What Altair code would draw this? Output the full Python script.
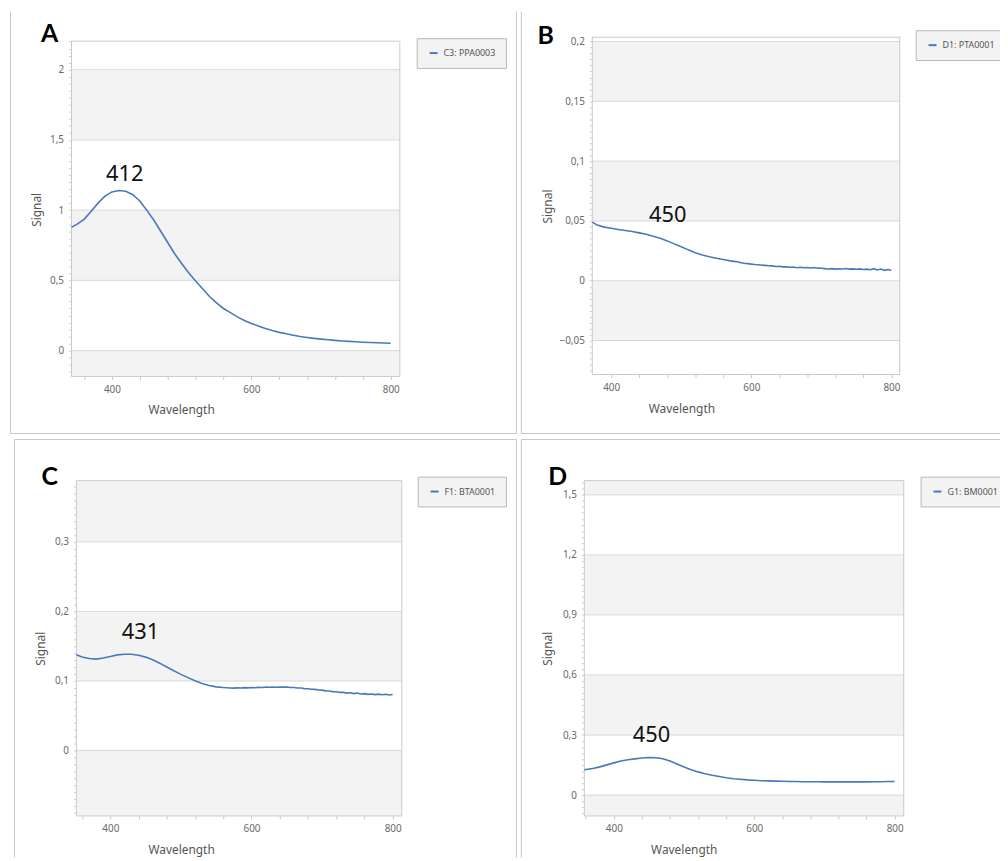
import math
import altair as alt
import pandas as pd

# ---------------- data ----------------
a_series = "C3: PPA0003"
a_peak = "412"
a_wl = [342] + list(range(350, 801, 10))
a_sig = [0.877, 0.900, 0.935, 0.990, 1.050, 1.100, 1.130, 1.140, 1.135, 1.110,
         1.065, 1.000, 0.930, 0.850, 0.770, 0.690, 0.620, 0.555, 0.495, 0.440,
         0.385, 0.340, 0.300, 0.270, 0.240, 0.215, 0.193, 0.175, 0.158, 0.143,
         0.130, 0.120, 0.110, 0.100, 0.094, 0.087, 0.082, 0.077, 0.073, 0.069,
         0.066, 0.063, 0.060, 0.058, 0.056, 0.054, 0.052]

b_series = "D1: PTA0001"
b_peak = "450"
b_wl = [373] + list(range(380, 571, 10)) + list(range(575, 801, 5))
b_sig = [0.0490,
         0.0465, 0.0448, 0.0438, 0.0428, 0.0420, 0.0412, 0.0400, 0.0388, 0.0372, 0.0355,
         0.0333, 0.0308, 0.0284, 0.0258, 0.0234, 0.0215, 0.0200, 0.0188, 0.0177, 0.0166,
         0.0162, 0.0158, 0.0150, 0.0146, 0.0143,
         0.0139, 0.0136, 0.0134, 0.0130, 0.0128, 0.0125, 0.0124, 0.0119, 0.0121, 0.0116,
         0.0117, 0.0112, 0.0114, 0.0109, 0.0112, 0.0108, 0.0111, 0.0106, 0.0110, 0.0105,
         0.0104, 0.0101, 0.0098, 0.0101, 0.0097, 0.0100, 0.0098, 0.0102, 0.0097, 0.0099,
         0.0096, 0.0099, 0.0094, 0.0097, 0.0092, 0.0101, 0.0090, 0.0098, 0.0087, 0.0094,
         0.0088]

c_series = "F1: BTA0001"
c_peak = "431"
c_wl = [352] + list(range(360, 561, 10)) + list(range(565, 801, 5))
c_sig = [0.1376,
         0.1345, 0.1322, 0.1314, 0.1330, 0.1353, 0.1375, 0.1385, 0.1383, 0.1370, 0.1343,
         0.1305, 0.1256, 0.1200, 0.1146, 0.1095, 0.1048, 0.1003, 0.0965, 0.0935, 0.0915,
         0.0906,
         0.0903, 0.0900, 0.0897, 0.0902, 0.0899, 0.0904, 0.0901,
         0.0906, 0.0903, 0.0908, 0.0906, 0.0911, 0.0909, 0.0913, 0.0910, 0.0914, 0.0911,
         0.0913, 0.0906, 0.0905, 0.0899, 0.0898, 0.0890, 0.0888, 0.0882, 0.0879, 0.0870,
         0.0868, 0.0858, 0.0857, 0.0847, 0.0846, 0.0836, 0.0838, 0.0826, 0.0830, 0.0818,
         0.0826, 0.0812, 0.0818, 0.0808, 0.0812, 0.0804, 0.0811, 0.0801, 0.0808, 0.0798,
         0.0805]

d_series = "G1: BM0001"
d_peak = "450"
d_wl = [358] + list(range(370, 801, 10))
d_sig = [0.127,
         0.133, 0.141, 0.151, 0.161, 0.170, 0.177, 0.181, 0.185, 0.188, 0.187,
         0.182, 0.170, 0.155, 0.140, 0.127, 0.116, 0.107, 0.099, 0.093, 0.087,
         0.082, 0.079, 0.076, 0.074, 0.072, 0.071, 0.070, 0.069, 0.068, 0.068,
         0.067, 0.067, 0.067, 0.066, 0.066, 0.066, 0.066, 0.066, 0.066, 0.066,
         0.067, 0.067, 0.068, 0.068]

# ---------------- styling / layout ----------------
FONT = "Noto Sans"
LINE = "#4a78bd"
BAND = "#f3f3f3"
GRID = "#d9d9d9"
FRAME = "#c9c9c9"
BORDER = "#c6c6c6"
W, H, M = 1000, 853, 8   # chart size and page margin
LEG_DX, LEG_DY = 3, -4   # legend placement correction


def panel(series, wl, sig, peak, peak_at, box, xdom, ydom, bands, majors,
          major_step, minor_step, xtitle_at, ytitle_at, legend_at, letter, letter_at):
    """Returns a flat list of unit layers for one panel (all sharing identical scales)."""
    left, top, right, bottom = [v - M for v in box]

    def sx():
        return alt.Scale(domain=xdom, range=[left, right], nice=False, zero=False)

    def sy():
        return alt.Scale(domain=ydom, range=[bottom, top], nice=False, zero=False)

    band_df = pd.DataFrame({"lo": [b[0] for b in bands], "hi": [b[1] for b in bands],
                            "x0": xdom[0], "x1": xdom[1]})
    band_layer = alt.Chart(band_df).mark_rect(color=BAND).encode(
        x=alt.X("x0:Q", scale=sx(), axis=None), x2="x1:Q",
        y=alt.Y("lo:Q", scale=sy(), axis=None), y2="hi:Q")

    grid_df = pd.DataFrame({"v": majors, "x0": xdom[0], "x1": xdom[1]})
    grid_layer = alt.Chart(grid_df).mark_rule(color=GRID, strokeWidth=1).encode(
        x=alt.X("x0:Q", scale=sx(), axis=None), x2="x1:Q",
        y=alt.Y("v:Q", scale=sy(), axis=None))

    frame_df = pd.DataFrame({"x0": [xdom[0]], "x1": [xdom[1]], "y0": [ydom[0]], "y1": [ydom[1]]})
    frame_layer = alt.Chart(frame_df).mark_rect(fillOpacity=0, stroke=FRAME, strokeWidth=1).encode(
        x=alt.X("x0:Q", scale=sx(), axis=None), x2="x1:Q",
        y=alt.Y("y0:Q", scale=sy(), axis=None), y2="y1:Q")

    xticks = [t for t in range(360, 801, 40) if t >= xdom[0]]
    k0 = int(math.ceil(ydom[0] / minor_step - 1e-9))
    k1 = int(math.floor(ydom[1] / minor_step + 1e-9))
    yticks = [round(k * minor_step, 6) for k in range(k0, k1 + 1)]
    major_test = f"abs(datum.value / {major_step} - round(datum.value / {major_step})) < 0.000001"

    x_axis = alt.Axis(orient="bottom", offset=bottom - H, values=xticks,
                      labelExpr="datum.value % 200 == 0 ? datum.label : ''",
                      format="d",
                      labelFlush=False, labelOverlap=False, tickSize=3, labelPadding=5,
                      tickColor="#c4c4c4",
                      title="Wavelength", titleX=xtitle_at[0] - M, titleY=xtitle_at[1] - box[3],
                      titleBaseline="middle", titleAlign="center")
    y_axis = alt.Axis(orient="left", offset=-left, values=yticks,
                      labelExpr=f"{major_test} ? replace(datum.label, '.', ',') : ''",
                      format="~g",
                      labelOverlap=False, labelFlush=False, tickSize=3, labelPadding=5,
                      tickColor="#cfcfcf",
                      title="Signal", titleX=ytitle_at[0] - box[0], titleY=ytitle_at[1] - M,
                      titleAngle=270, titleBaseline="middle", titleAlign="center")

    color = alt.Color("series:N", scale=alt.Scale(domain=[series], range=[LINE]),
                      legend=alt.Legend(orient="none", legendX=legend_at[0] - M + LEG_DX,
                                        legendY=legend_at[1] - M + LEG_DY, title=None,
                                        symbolType="stroke", symbolSize=64, symbolStrokeWidth=2,
                                        labelFont=FONT, labelFontSize=9, labelColor="#555555",
                                        padding=10, fillColor="#f3f3f3", strokeColor="#b8b8b8",
                                        labelOffset=5, symbolOffset=2))

    ann_df = pd.DataFrame({"wl": [peak_at[0]], "sig": [peak_at[1]], "label": [peak]})
    ann_layer = alt.Chart(ann_df).mark_text(font=FONT, fontSize=22, color="#111111",
                                            align="center", baseline="middle").encode(
        x=alt.X("wl:Q", scale=sx(), axis=None), y=alt.Y("sig:Q", scale=sy(), axis=None),
        text="label:N")

    letter_layer = alt.Chart(pd.DataFrame({"t": [letter]})).mark_text(
        font="Lato", fontSize=25, fontWeight="bold", color="#000000",
        align="center", baseline="middle").encode(
        x=alt.value(letter_at[0] - M), y=alt.value(letter_at[1] - M), text="t:N")

    line_df = pd.DataFrame({"wl": wl, "sig": sig, "series": series})
    line_layer = alt.Chart(line_df).mark_line(strokeWidth=1.6).encode(
        x=alt.X("wl:Q", scale=sx(), axis=x_axis),
        y=alt.Y("sig:Q", scale=sy(), axis=y_axis),
        color=color)

    return [band_layer, grid_layer, frame_layer, ann_layer, letter_layer, line_layer]


pA = panel(a_series, a_wl, a_sig, a_peak, (418.5, 1.259),
           box=(72, 38, 403, 376), xdom=[342, 813], ydom=[-0.184, 2.203],
           bands=[(1.5, 2), (0.5, 1), (-0.184, 0)], majors=[0, 0.5, 1, 1.5, 2],
           major_step=0.5, minor_step=0.05,
           xtitle_at=(182.5, 409), ytitle_at=(36.7, 207.5), legend_at=(417, 39),
           letter="A", letter_at=(50, 31))
pB = panel(b_series, b_wl, b_sig, b_peak, (480.6, 0.0545),
           box=(597, 34, 907, 374), xdom=[373, 812], ydom=[-0.0784, 0.2036],
           bands=[(0.15, 0.2), (0.05, 0.1), (-0.05, 0)],
           majors=[-0.05, 0, 0.05, 0.1, 0.15, 0.2],
           major_step=0.05, minor_step=0.005,
           xtitle_at=(686.8, 408.5), ytitle_at=(552, 204.2), legend_at=(920, 31),
           letter="B", letter_at=(550, 32.5))
pC = panel(c_series, c_wl, c_sig, c_peak, (442.8, 0.1707),
           box=(77, 481, 405, 819), xdom=[352, 813], ydom=[-0.094, 0.388],
           bands=[(0.3, 0.388), (0.1, 0.2), (-0.094, 0)], majors=[0, 0.1, 0.2, 0.3],
           major_step=0.1, minor_step=0.01,
           xtitle_at=(182.5, 852.5), ytitle_at=(41.3, 650), legend_at=(418, 481),
           letter="C", letter_at=(50, 477))
pD = panel(d_series, d_wl, d_sig, d_peak, (453.7, 0.2995),
           box=(589, 481, 911, 819), xdom=[358, 813], ydom=[-0.104, 1.571],
           bands=[(1.5, 1.571), (0.9, 1.2), (0.3, 0.6), (-0.104, 0)],
           majors=[0, 0.3, 0.6, 0.9, 1.2, 1.5],
           major_step=0.3, minor_step=0.03,
           xtitle_at=(689.2, 852.5), ytitle_at=(552, 650), legend_at=(925, 481),
           letter="D", letter_at=(562, 477))

# ---------------- panel borders (decoration) ----------------
one = pd.DataFrame({"k": [0]})


def vrule(x, y0, y1):
    return alt.Chart(one).mark_rule(color=BORDER, strokeWidth=1).encode(
        x=alt.value(x - M), y=alt.value(y0 - M), y2=alt.value(y1 - M))


def hrule(y, x0, x1):
    return alt.Chart(one).mark_rule(color=BORDER, strokeWidth=1).encode(
        y=alt.value(y - M), x=alt.value(x0 - M), x2=alt.value(x1 - M))


borders = [
    vrule(10.5, 8, 433.5), hrule(433.5, 10.5, 520.5), vrule(520.5, 8, 433.5),
    vrule(525.5, 8, 433.5), hrule(433.5, 525.5, 1008),
    hrule(439.5, 14.5, 520.5), vrule(14.5, 439.5, 861), vrule(520.5, 439.5, 861),
    hrule(439.5, 525.5, 1008), vrule(525.5, 439.5, 861),
]

chart = alt.layer(*pA, *pB, *pC, *pD, *borders).resolve_scale(
    x="independent", y="independent", color="independent"
).resolve_axis(x="independent", y="independent").resolve_legend(color="independent").properties(
    width=W, height=H, autosize=alt.AutoSizeParams(type="none"), padding=0
).configure_view(stroke=None).configure_axis(
    domain=False, grid=False, labelFont=FONT, labelFontSize=10, labelColor="#6a6a6a",
    titleFont=FONT, titleFontSize=12, titleColor="#555555", titleFontWeight="normal"
)

chart.save("out.html", embed_options={"renderer": "svg", "actions": False})
